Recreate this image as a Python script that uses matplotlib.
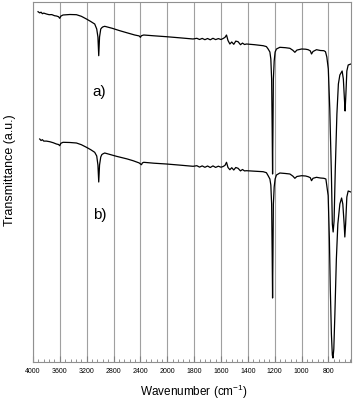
"""FTIR transmittance spectra a) and b) on a split wavenumber axis."""

from matplotlib import pyplot
from matplotlib import ticker
import numpy

# Spectrum a) (upper trace).
wavenumber_a = [3925, 3900, 3880, 3860, 3840, 3800, 3760, 3720, 3680, 3651,
                3620, 3602, 3585, 3553, 3450, 3353, 3280, 3204, 3140, 3081,
                3051, 3033, 3021, 3009, 2991, 2975, 2960, 2932, 2820, 2708,
                2600, 2485, 2420, 2400, 2385, 2351, 2200, 2013, 1900, 1808,
                1780, 1760, 1740, 1720, 1700, 1680, 1660, 1640, 1620, 1600,
                1584, 1570, 1559, 1548, 1534, 1520, 1505, 1490, 1473, 1455,
                1440, 1425, 1410, 1350, 1286, 1262, 1249, 1236, 1229, 1223,
                1219, 1216, 1213, 1210, 1204, 1197, 1187, 1162, 1120, 1087,
                1065, 1050, 1035, 1000, 970, 951, 935, 926, 915, 889,
                860, 834, 822, 812, 801, 790, 778, 771, 765, 758,
                749, 737, 726, 715, 698, 689, 681, 676, 670, 663,
                653, 633]
trans_a = [349.8, 348.6, 349.3, 347.8, 348.4, 347.5, 346.8, 346.9, 345.8, 345.5,
           344.8, 343.2, 345.4, 346.5, 347.0, 346.8, 345.2, 342.5, 340.0, 337.5,
           332.5, 324.5, 305.8, 324.5, 332.5, 333.8, 334.6, 335.2, 333.2, 330.8,
           328.7, 326.5, 325.6, 324.2, 325.8, 326.5, 325.7, 324.8, 323.6, 322.5,
           323.2, 322.0, 323.1, 321.8, 323.0, 321.7, 323.2, 321.9, 322.9, 322.0,
           323.0, 324.2, 326.5, 321.0, 317.5, 319.5, 317.2, 320.4, 319.8, 316.8,
           318.4, 317.0, 317.5, 316.8, 315.8, 314.9, 312.5, 309.5, 302.5, 282.5,
           232.5, 187.5, 232.5, 282.5, 300.5, 309.5, 312.5, 314.2, 313.8, 313.2,
           311.2, 309.2, 311.4, 312.5, 312.3, 311.8, 310.6, 307.5, 310.0, 311.8,
           311.0, 310.8, 309.8, 304.5, 292.5, 252.5, 187.5, 137.5, 129.5, 140.5,
           192.5, 247.5, 277.5, 286.5, 290.5, 282.5, 262.5, 250.5, 267.5, 290.5,
           296.5, 297.5]

# Spectrum b) (lower trace).
wavenumber_b = [3900, 3880, 3860, 3840, 3800, 3751, 3700, 3651, 3620, 3602,
                3585, 3553, 3450, 3353, 3280, 3204, 3140, 3081, 3051, 3033,
                3021, 3009, 2991, 2975, 2960, 2932, 2757, 2600, 2510, 2420,
                2385, 2370, 2351, 2200, 2013, 1900, 1808, 1780, 1760, 1740,
                1720, 1700, 1680, 1660, 1640, 1620, 1600, 1584, 1570, 1559,
                1548, 1534, 1520, 1505, 1490, 1473, 1455, 1440, 1425, 1410,
                1350, 1286, 1262, 1249, 1236, 1229, 1223, 1219, 1216, 1213,
                1210, 1204, 1197, 1187, 1162, 1120, 1087, 1065, 1050, 1035,
                1000, 970, 951, 935, 926, 915, 889, 860, 834, 819,
                802, 793, 786, 778, 771, 766, 760, 752, 741, 730,
                715, 702, 693, 683, 678, 672, 663, 653, 633]
trans_b = [222.5, 221.0, 221.8, 220.4, 220.4, 219.8, 218.8, 217.5, 217.0, 215.8,
           218.2, 219.2, 219.0, 218.5, 216.8, 214.2, 211.8, 209.2, 205.5, 196.5,
           179.5, 196.5, 204.5, 206.9, 207.6, 208.5, 205.2, 202.6, 200.8, 198.6,
           196.8, 198.6, 199.2, 198.3, 197.5, 196.3, 195.2, 195.8, 194.4, 195.6,
           194.2, 195.5, 194.0, 195.6, 194.1, 195.3, 194.3, 195.0, 196.2, 199.2,
           194.0, 191.8, 193.8, 191.5, 194.0, 193.2, 190.6, 192.0, 190.6, 190.8,
           190.3, 189.8, 188.8, 185.8, 182.5, 176.5, 157.5, 107.5, 63.5, 107.5,
           157.5, 174.5, 182.5, 186.5, 188.5, 188.0, 187.5, 185.4, 183.2, 185.0,
           185.8, 185.5, 184.8, 183.8, 180.8, 183.2, 184.2, 183.5, 183.2, 182.5,
           165.8, 122.5, 72.5, 27.5, 6.5, 3.5, 12.5, 47.5, 102.5, 137.5,
           157.5, 163.5, 157.5, 137.5, 124.5, 137.5, 164.5, 170.5, 169.5]

major_ticks = [4000, 3600, 3200, 2800, 2400, 2000, 1800, 1600, 1400, 1200,
               1000, 800]


# Above 2000 cm-1 the axis is compressed by a factor of two.
def forward(w):
    w = numpy.asarray(w, dtype=float)
    return numpy.where(w > 2000, 2000 + (w - 2000) / 2, w)


def inverse(t):
    t = numpy.asarray(t, dtype=float)
    return numpy.where(t > 2000, 2000 + (t - 2000) * 2, t)


pyplot.rc('font', family=['Liberation Sans', 'DejaVu Sans'])
pyplot.rc('mathtext', default='regular')
fig = pyplot.figure(figsize=(3.54, 4.02), dpi=100)
ax = fig.add_axes([33 / 354, 39.5 / 402, 318 / 354, 360 / 402])
ax.set_xscale('function', functions=(forward, inverse))
ax.set_xlim(4000, 632)
ax.set_ylim(0, 360)

ax.xaxis.set_major_locator(ticker.FixedLocator(major_ticks))
ax.xaxis.set_major_formatter(ticker.FixedFormatter([str(t) for t in major_ticks]))
minor = list(range(2080, 4000, 80)) + list(range(640, 2000, 40))
ax.xaxis.set_minor_locator(ticker.FixedLocator(minor))
ax.tick_params(axis='x', which='both', direction='in', color='#808080',
               labelsize=5, pad=4)
ax.tick_params(axis='x', which='major', length=4, width=0.8)
ax.tick_params(axis='x', which='minor', length=2.5, width=0.6)
ax.set_yticks([])
ax.grid(axis='x', which='major', color='#a0a0a0', linewidth=0.8)
for spine in ax.spines.values():
    spine.set_color('#909090')
    spine.set_linewidth(0.8)

ax.plot(wavenumber_a, trans_a, color='black', linewidth=0.9)
ax.plot(wavenumber_b, trans_b, color='black', linewidth=0.9)

ax.text(99 / 354, 1 - 92 / 402, 'a)', transform=fig.transFigure,
        fontsize=11, ha='center', va='center')
ax.text(100 / 354, 1 - 215 / 402, 'b)', transform=fig.transFigure,
        fontsize=11, ha='center', va='center')

fig.text(194 / 354, 1 - 392 / 402, r'Wavenumber (cm$^{-1}$)',
         fontsize=8.5, ha='center', va='center')
fig.text(10 / 354, 1 - 170 / 402, 'Transmittance (a.u.)', rotation=90,
         fontsize=9, ha='center', va='center')

fig.savefig('out.png', dpi=100)
